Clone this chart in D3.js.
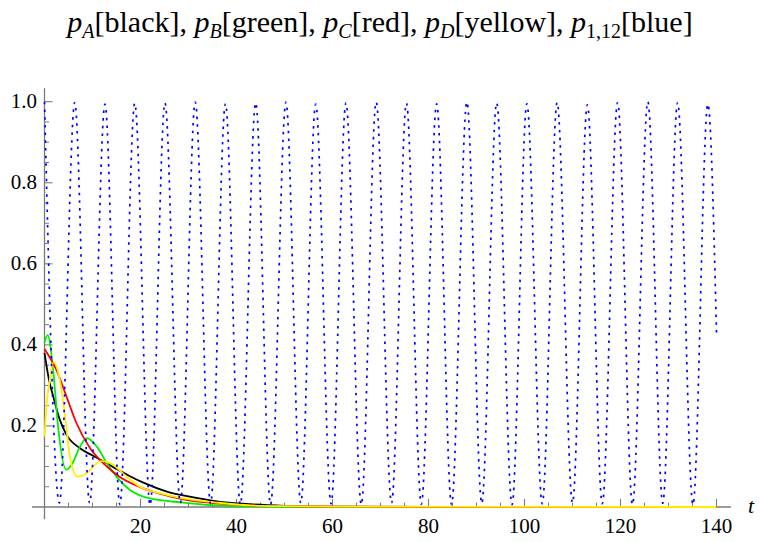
<!DOCTYPE html>
<html>
<head>
<meta charset="utf-8">
<script src="https://cdn.jsdelivr.net/npm/d3@7"></script>
</head>
<body style="margin:0">
<div id="root"></div>
<script>
// ---- data ----
const xTickValues = [20, 40, 60, 80, 100, 120, 140];
const yTickValues = [0.2, 0.4, 0.6, 0.8, 1.0];
const yTickLabels = ["0.2", "0.4", "0.6", "0.8", "1.0"];

// p_A (black)
const tA = [0, 1, 1.84, 3.2, 4.6, 7.4, 10, 13, 15, 17.8, 20.6, 25.5, 30, 35.9, 42.8, 50, 60, 80, 140];
const vA = [0.38, 0.31, 0.272, 0.215, 0.178, 0.145, 0.127, 0.108, 0.094, 0.076, 0.060, 0.038, 0.026, 0.014, 0.007, 0.003, 0.001, 0, 0];

// p_B (green)
const tB = [0, 0.66, 1.8, 2.9, 4.5, 5.7, 7.4, 8.8, 10.9, 13, 15, 17.8, 22, 28.9, 35.9, 45, 60, 140];
const vB = [0.405, 0.424, 0.338, 0.19, 0.092, 0.105, 0.149, 0.170, 0.149, 0.108, 0.075, 0.042, 0.021, 0.011, 0.004, 0.001, 0, 0];

// p_C (red)
const tC = [0, 2.5, 4.6, 6.7, 9.5, 13, 15.7, 19.9, 24, 28.9, 35.9, 42.8, 50, 60, 80, 140];
const vC = [0.39, 0.338, 0.272, 0.206, 0.145, 0.100, 0.074, 0.049, 0.033, 0.019, 0.009, 0.004, 0.002, 0.001, 0, 0];

// p_D (yellow)
const tD = [0, 0.5, 1.1, 1.9, 3.2, 4.3, 5.3, 6.9, 8.8, 10.5, 11.9, 14.3, 17.1, 19.9, 24, 28.9, 35.9, 42.8, 50, 60, 140];
const vD = [0.174, 0.26, 0.313, 0.358, 0.313, 0.223, 0.124, 0.075, 0.083, 0.104, 0.113, 0.104, 0.075, 0.05, 0.034, 0.021, 0.011, 0.004, 0.002, 0.001, 0];

// p_{1,12} (blue, dotted) : extrema, plus the end point
const tE = [0, 3.1, 6.3, 9.4, 12.6, 15.7, 18.8, 22.0, 25.1, 28.3, 31.4, 34.6, 37.7, 40.8, 44.0, 47.1,
            50.3, 53.4, 56.5, 59.7, 62.8, 66.0, 69.1, 72.3, 75.4, 78.5, 81.7, 84.8, 88.0, 91.1, 94.2,
            97.4, 100.5, 103.7, 106.8, 110.0, 113.1, 116.2, 119.4, 122.5, 125.7, 128.8, 131.9, 135.1, 138.2, 140];
const vE = [1.0, 0.01, 0.998, 0.01, 0.994, 0.006, 0.996, 0.005, 0.997, 0.01, 0.999, 0.008, 0.995, 0.006, 0.997, 0.006,
            0.999, 0.01, 0.994, 0.008, 0.997, 0.006, 0.999, 0.01, 0.996, 0.007, 0.995, 0.006, 0.999, 0.009, 0.997,
            0.006, 0.995, 0.008, 0.998, 0.01, 0.992, 0.008, 0.998, 0.006, 1.0, 0.009, 0.998, 0.006, 0.994, 0.43];

// ---- drawing ----
const FONT = "Liberation Serif";
const svg = d3.select("#root").append("svg").attr("width", 760).attr("height", 542)
  .style("display", "block").attr("font-family", FONT).style("font-family", FONT);
const x = d3.scaleLinear().domain([0, 140]).range([44.5, 716.5]);
const y = d3.scaleLinear().domain([0, 1]).range([507, 101.7]);
const axisColor = "#7a7a7a";

// title
const title = svg.append("text").attr("x", 380).attr("y", 32)
  .attr("text-anchor", "middle").attr("font-size", 30)
  .attr("font-family", FONT).style("font-family", FONT);
const parts = [["p", "A", "[black], "], ["p", "B", "[green], "], ["p", "C", "[red], "],
               ["p", "D", "[yellow], "], ["p", "1,12", "[blue]"]];
parts.forEach(([p, sub, rest]) => {
  title.append("tspan").attr("font-style", "italic").text(p);
  title.append("tspan").attr("font-size", 20).attr("dy", 6)
    .attr("font-style", /^[A-Z]$/.test(sub) ? "italic" : "normal").text(sub);
  title.append("tspan").attr("dy", -6).text(rest);
});

// axes lines
const g = svg.append("g");
g.append("line").attr("x1", x(-2.6)).attr("x2", x(143)).attr("y1", y(0)).attr("y2", y(0))
  .attr("stroke", axisColor).attr("stroke-width", 1.3);
g.append("line").attr("x1", x(0)).attr("x2", x(0)).attr("y1", y(-0.03)).attr("y2", y(1.033))
  .attr("stroke", axisColor).attr("stroke-width", 1.3);

// x ticks
const xMinor = d3.range(5, 141, 5).filter(v => v % 20 !== 0);
xTickValues.forEach(v => g.append("line").attr("x1", x(v)).attr("x2", x(v))
  .attr("y1", y(0)).attr("y2", y(0) - 8).attr("stroke", axisColor).attr("stroke-width", 1.1));
xMinor.forEach(v => g.append("line").attr("x1", x(v)).attr("x2", x(v))
  .attr("y1", y(0)).attr("y2", y(0) - 4.5).attr("stroke", axisColor).attr("stroke-width", 1));
xTickValues.forEach(v => svg.append("text").attr("x", x(v)).attr("y", 533)
  .attr("text-anchor", "middle").attr("font-size", 21)
  .attr("font-family", FONT).style("font-family", FONT).text(v));

// y ticks
const yMinor = d3.range(1, 21).map(i => i * 0.05).filter(v => Math.abs(v / 0.2 - Math.round(v / 0.2)) > 1e-6);
yTickValues.forEach(v => g.append("line").attr("x1", x(0)).attr("x2", x(0) + 8)
  .attr("y1", y(v)).attr("y2", y(v)).attr("stroke", axisColor).attr("stroke-width", 1.1));
yMinor.forEach(v => g.append("line").attr("x1", x(0)).attr("x2", x(0) + 4.5)
  .attr("y1", y(v)).attr("y2", y(v)).attr("stroke", axisColor).attr("stroke-width", 1));
yTickValues.forEach((v, i) => svg.append("text").attr("x", 37).attr("y", y(v) + 6.5)
  .attr("text-anchor", "end").attr("font-size", 21)
  .attr("font-family", FONT).style("font-family", FONT).text(yTickLabels[i]));

// axis label t
svg.append("text").attr("x", 751).attr("y", 513).attr("text-anchor", "middle")
  .attr("font-size", 22).attr("font-style", "italic")
  .attr("font-family", FONT).style("font-family", FONT).text("t");

// curves
const line = d3.line().x(d => x(d[0])).y(d => y(d[1])).curve(d3.curveMonotoneX);
const series = [
  { t: tA, v: vA, color: "#000000" },
  { t: tB, v: vB, color: "#00ee00" },
  { t: tC, v: vC, color: "#ff0000" },
  { t: tD, v: vD, color: "#ffee00" }
];
series.forEach(s => {
  svg.append("path").datum(s.t.map((t, i) => [t, s.v[i]]))
    .attr("d", line).attr("fill", "none").attr("stroke", s.color)
    .attr("stroke-width", 1.8).attr("stroke-linejoin", "round");
});
svg.append("path").datum(tE.map((t, i) => [t, vE[i]]))
  .attr("d", line).attr("fill", "none").attr("stroke", "#0000ff")
  .attr("stroke-width", 1.7).attr("stroke-dasharray", "2.5,5.2");
</script>
</body>
</html>
